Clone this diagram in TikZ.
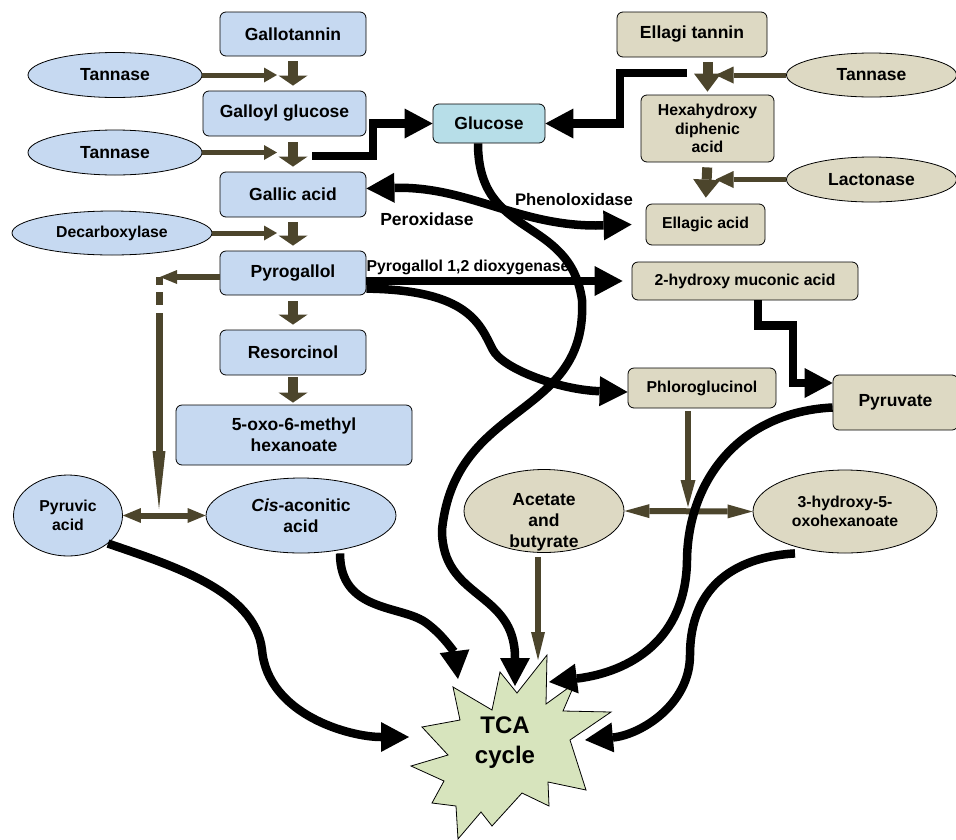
\documentclass[tikz,border=0pt]{standalone}
\usepackage{fontspec}
\setmainfont{Liberation Sans}
\usetikzlibrary{arrows.meta, shapes.geometric}
\definecolor{boxblue}{RGB}{198,217,241}
\definecolor{boxtan}{RGB}{221,217,195}
\definecolor{glucblue}{RGB}{183,222,232}
\definecolor{tcagreen}{RGB}{215,228,189}
\definecolor{olivegray}{RGB}{76,69,44}

\begin{document}
\begin{tikzpicture}[x=1pt, y=-1pt,
        txt/.style={font=\bfseries\fontsize{17.5}{21}\selectfont, align=center, inner sep=0pt},
        small/.style={font=\bfseries\fontsize{15.8}{18.5}\selectfont, align=center, inner sep=0pt},
        box/.style={draw, line width=0.8pt, rounded corners=6pt},
        oval/.style={draw, line width=0.8pt, ellipse, inner sep=0pt},
        bluefill/.style={fill=boxblue},
        tanfill/.style={fill=boxtan},
        flow/.style={line width=8.5pt, -{Triangle[length=28pt,width=30pt,line width=0pt]}},
        gblock/.style={line width=10pt, olivegray, -{Triangle[length=10pt,width=29pt,line width=0pt]}},
        gblockr/.style={line width=10pt, olivegray, -{Triangle[length=18pt,width=27pt,line width=0pt]}},
        enz/.style={line width=5pt, olivegray, -{Triangle[length=13pt,width=15pt,line width=0pt]}},
        enzr/.style={line width=5pt, olivegray, -{Triangle[length=18pt,width=17pt,line width=0pt]}},
        gthin/.style={line width=6pt, olivegray}]
    \useasboundingbox (0,0) rectangle (956,839);

    \node[box, bluefill, txt, minimum width=146pt, minimum height=44pt] (galt) at (293,34) {Gallotannin};
    \node[oval, bluefill, txt, minimum width=174pt, minimum height=45pt] (tan1) at (115,75) {Tannase};
    \node[box, bluefill, txt, minimum width=163pt, minimum height=45pt] (galg) at (284.5,113.5) {Galloyl glucose};
    \node[oval, bluefill, txt, minimum width=174pt, minimum height=45pt] (tan2) at (115,152.5) {Tannase};
    \node[box, bluefill, txt, minimum width=146pt, minimum height=45pt] (gala) at (293,194.5) {Gallic acid};
    \node[oval, bluefill, small, minimum width=200pt, minimum height=44pt] (decarb) at (112,233) {Decarboxylase};
    \node[box, bluefill, txt, minimum width=146pt, minimum height=44pt] (pyrog) at (293,273) {Pyrogallol};
    \node[box, bluefill, txt, minimum width=146pt, minimum height=45pt] (resor) at (293,352.5) {Resorcinol};
    \node[box, bluefill, txt, minimum width=236pt, minimum height=60pt] (oxo) at (294,435) {5-oxo-6-methyl\\hexanoate};
    \node[oval, bluefill, small, minimum width=109pt, minimum height=81pt] (pyra) at (68,515.5) {Pyruvic\\acid};
    \node[oval, bluefill, txt, minimum width=190pt, minimum height=75pt] (cis) at (301,515.5) {\textit{Cis}-aconitic\\acid};

    \node[box, fill=glucblue, txt, minimum width=112pt, minimum height=39pt] (glc) at (489,123.5) {Glucose};

    \node[box, tanfill, txt, minimum width=150pt, minimum height=45pt] (ellt) at (692,34.5) {Ellagi tannin};
    \node[oval, tanfill, txt, minimum width=170pt, minimum height=44pt] (tan3) at (871.5,75) {Tannase};
    \node[box, tanfill, small, minimum width=133pt, minimum height=67pt] (hexa) at (707.5,128.5) {Hexahydroxy\\diphenic\\acid};
    \node[oval, tanfill, txt, minimum width=170pt, minimum height=45pt] (lact) at (871.5,179.5) {Lactonase};
    \node[box, tanfill, small, minimum width=119pt, minimum height=41pt] (ella) at (705.5,224.5) {Ellagic acid};
    \node[box, tanfill, small, minimum width=226pt, minimum height=38pt] (muco) at (745,281) {2-hydroxy muconic acid};
    \node[box, tanfill, small, minimum width=148pt, minimum height=40pt] (phlo) at (702,388) {Phloroglucinol};
    \node[box, tanfill, txt, minimum width=125pt, minimum height=55pt] (pyru) at (895.5,402.5) {Pyruvate};
    \node[oval, tanfill, minimum width=160pt, minimum height=83pt] (acet) at (544,511) {};
    \node[txt] (acettxt) at (544,522) {Acetate\\and\\butyrate};
    \node[oval, tanfill, small, minimum width=184pt, minimum height=83pt] (hydx) at (845,511.5) {3-hydroxy-5-\\oxohexanoate};

    \draw[fill=tcagreen, line width=0.8pt] (453,687) -- (492,710) -- (500,672) -- (517,693) -- (547,655)
        -- (546,704) -- (575,683) -- (563,711) -- (611,712) -- (570,740) -- (586,790) -- (548,782)
        -- (549,806) -- (522,793) -- (492,826) -- (481,812) -- (458,839) -- (456,806) -- (432,803)
        -- (444,781) -- (411,766) -- (448,755) -- (422,727) -- (460,720) -- cycle;
    \node[font=\bfseries\fontsize{24}{30}\selectfont, align=center, inner sep=0pt] (tca) at (505,743) {TCA\\cycle};
    \coordinate (tcaG) at (515,686);
    \coordinate (tcaC) at (458,679);
    \coordinate (tcaP) at (409,737);
    \coordinate (tcaR) at (549,682);
    \coordinate (tcaH) at (585,740);
    \coordinate (tcaA) at (538,660);

    \node[txt] (perox) at (427,219) {Peroxidase};
    \node[font=\bfseries\fontsize{16.7}{20}\selectfont, inner sep=0pt] (phenox) at (574,200) {Phenoloxidase};
    \node[small] (dioxy) at (468,267) {Pyrogallol 1,2 dioxygenase};

    \coordinate (gjoin) at (312,156);
    \coordinate (ejoin) at (687,73);
    \coordinate (pbend) at (159,277);
    \coordinate (pdrop) at (159,509);
    \coordinate (pjoin) at (688,512);

    \draw[gblock, shorten <=5pt, shorten >=5pt] (galt.south) -- (galt.south |- galg.north);
    \draw[gblock, shorten <=6pt, shorten >=5pt] (gala.north |- galg.south) -- (gala.north);
    \draw[gblock, shorten <=5pt, shorten >=5pt] (gala.south) -- (pyrog.north);
    \draw[gblock, shorten <=6pt, shorten >=5pt] (pyrog.south) -- (resor.north);
    \draw[gblock, shorten <=2pt, shorten >=2pt] (resor.south) -- (resor.south |- oxo.north);
    \draw[gblockr, shorten <=5pt, shorten >=3pt] (hexa.north |- ellt.south) -- (hexa.north);
    \draw[gblockr, shorten <=5pt, shorten >=6pt] (hexa.south) -- (ella.north);

    \draw[enz, shorten >=16pt] (tan1.east) -- (tan1.east -| galt.south);
    \draw[enz, shorten >=16pt] (tan2.east) -- (tan2.east -| gala.north);
    \draw[enz, shorten >=16pt] (decarb.east) -- (decarb.east -| pyrog.north);
    \draw[enzr, shorten >=8pt] (tan3.west) -- (tan3.west -| hexa.north);
    \draw[enzr, shorten >=8pt] (lact.west) -- (lact.west -| hexa.south);

    \draw[gthin, -{Triangle[length=17pt,width=14pt,line width=0pt]}, shorten >=1pt] (pyrog.west |- pbend) -- (pbend);
    \draw[gthin, line width=7pt, dash pattern=on 8pt off 7pt on 13pt off 8pt on 300pt,
        -{Triangle[length=58pt,width=13pt,line width=0pt]}] (pbend) -- (pdrop);
    \draw[gthin, {Triangle[length=18pt,width=15pt,line width=0pt]}-{Triangle[length=18pt,width=15pt,line width=0pt]}] (pyra.east) -- (cis.west);
    \draw[gthin, -{Triangle[length=27pt,width=15pt,line width=0pt]}, shorten <=3pt, shorten >=5pt] (phlo.south -| pjoin) -- (pjoin);
    \draw[gthin, {Triangle[length=25pt,width=14pt,line width=0pt]}-{Triangle[length=25pt,width=14pt,line width=0pt]}] (acet.east) -- (hydx.west);
    \draw[gthin, -{Triangle[length=28pt,width=14pt,line width=0pt]}, shorten <=4pt] (acet.south -| tcaA) -- (tcaA);

    \draw[flow] (gjoin) -- ++(61,0) |- (glc.west);
    \draw[flow] (ejoin) -- ++(-67,0) |- (glc.east);
    \draw[flow] ([xshift=13pt]muco.south) -- ++(0,25) -- ++(35,0) |- ([yshift=19.5pt]pyru.west);
    \draw[flow, {Triangle[length=28pt,width=30pt,line width=0pt]}-{Triangle[length=28pt,width=30pt,line width=0pt]}]
        ([yshift=6pt]gala.east) .. controls (470,186) and (520,228) .. ([xshift=-14pt]ella.west);
    \draw[flow, shorten >=9pt] (pyrog.east |- muco.west) -- (muco.west);
    \draw[flow] (pyrog.-12) .. controls (470,290) and (480,325) .. (493,350)
        .. controls (503,369) and (560,390) .. ([yshift=-4pt]phlo.west);
    \draw[flow] ([xshift=-11pt]glc.south) .. controls (478,240) and (570,215) .. (582,300)
        .. controls (588,420) and (455,400) .. (442,530)
        .. controls (442,600) and (515,590) .. (tcaG);
    \draw[flow] (pyra.-35) .. controls (170,565) and (255,590) .. (262,650)
        .. controls (268,715) and (350,737) .. (tcaP);
    \draw[flow] ([xshift=39pt]cis.south) .. controls (340,612) and (400,605) .. (425,622)
        .. controls (445,636) and (455,655) .. (tcaC);
    \draw[flow] ([yshift=-5pt]pyru.west) .. controls (740,412) and (688,480) .. (687,560)
        .. controls (686,640) and (630,672) .. (tcaR);
    \draw[flow] ([xshift=-50pt]hydx.south) .. controls (720,558) and (690,600) .. (690,655)
        .. controls (690,705) and (640,735) .. (tcaH);
\end{tikzpicture}
\end{document}
